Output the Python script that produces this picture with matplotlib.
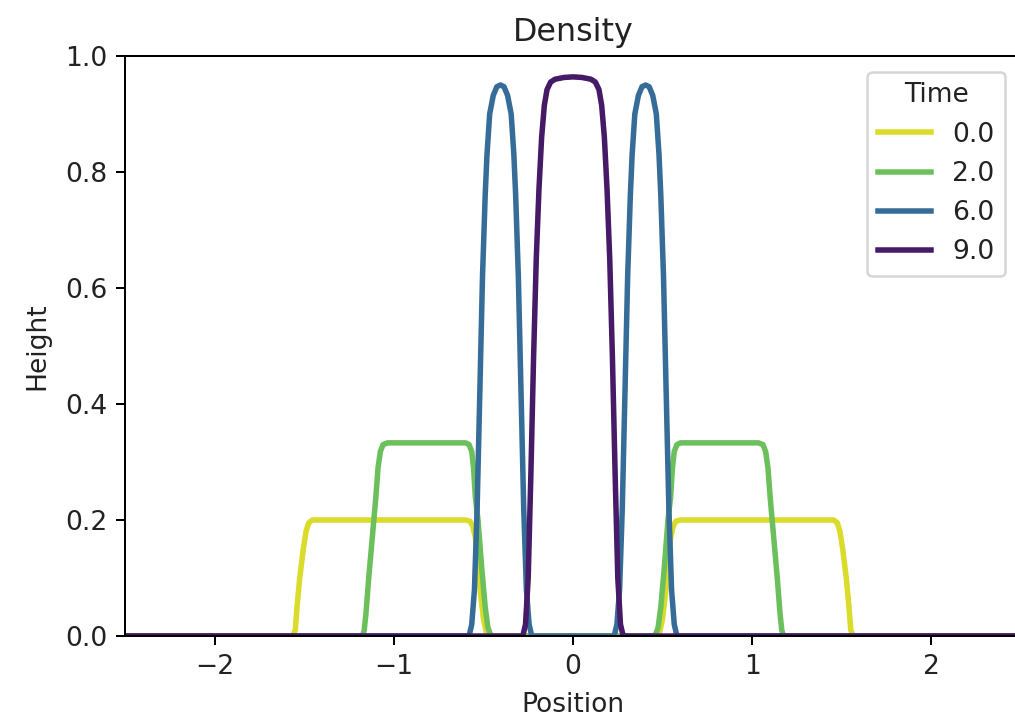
import matplotlib
matplotlib.use("Agg")
import matplotlib.pyplot as plt

# ---- data ----
times = ["0.0", "2.0", "6.0", "9.0"]
colors = ["#dbdb2b", "#6cc05c", "#366c98", "#461a66"]

x_t0 = [-2.5, -1.565, -1.55, -1.54, -1.525, -1.505, -1.49, -1.475, -1.455,
        -0.60, -0.575, -0.56, -0.545, -0.53, -0.515, -0.50, -0.485, -0.47,
        0.47, 0.485, 0.50, 0.515, 0.53, 0.545, 0.56, 0.575, 0.60,
        1.455, 1.475, 1.49, 1.505, 1.525, 1.54, 1.55, 1.565, 2.5]
y_t0 = [0.0, 0.0, 0.01, 0.05, 0.10, 0.15, 0.18, 0.195, 0.2,
        0.2, 0.198, 0.19, 0.17, 0.12, 0.07, 0.03, 0.008, 0.0,
        0.0, 0.008, 0.03, 0.07, 0.12, 0.17, 0.19, 0.198, 0.2,
        0.2, 0.195, 0.18, 0.15, 0.10, 0.05, 0.01, 0.0, 0.0]

x_t2 = [-2.5, -1.175, -1.165, -1.155, -1.14, -1.12, -1.10, -1.088, -1.075, -1.06, -1.035,
        -0.60, -0.58, -0.565, -0.555, -0.545, -0.53, -0.51, -0.49, -0.475, -0.46, -0.45,
        0.45, 0.46, 0.475, 0.49, 0.51, 0.53, 0.545, 0.555, 0.565, 0.58, 0.60,
        1.035, 1.06, 1.075, 1.088, 1.10, 1.12, 1.14, 1.155, 1.165, 1.175, 2.5]
y_t2 = [0.0, 0.0, 0.01, 0.04, 0.10, 0.17, 0.24, 0.29, 0.318, 0.33, 0.333,
        0.333, 0.33, 0.318, 0.29, 0.24, 0.20, 0.12, 0.05, 0.015, 0.002, 0.0,
        0.0, 0.002, 0.015, 0.05, 0.12, 0.20, 0.24, 0.29, 0.318, 0.33, 0.333,
        0.333, 0.33, 0.318, 0.29, 0.24, 0.17, 0.10, 0.04, 0.01, 0.0, 0.0]

x_t6 = [-2.5, -0.58, -0.565, -0.55, -0.535, -0.52, -0.505, -0.49, -0.48, -0.465, -0.445,
        -0.425, -0.405, -0.385, -0.365, -0.345, -0.33, -0.32, -0.305, -0.29, -0.275,
        -0.26, -0.245, -0.23,
        0.23, 0.245, 0.26, 0.275, 0.29, 0.305, 0.32, 0.33, 0.345, 0.365, 0.385,
        0.405, 0.425, 0.445, 0.465, 0.48, 0.49, 0.505, 0.52, 0.535, 0.55, 0.565, 0.58, 2.5]
y_t6 = [0.0, 0.0, 0.02, 0.08, 0.22, 0.42, 0.62, 0.76, 0.83, 0.90, 0.932,
        0.947, 0.95, 0.947, 0.932, 0.90, 0.83, 0.76, 0.62, 0.42, 0.22,
        0.08, 0.02, 0.0,
        0.0, 0.02, 0.08, 0.22, 0.42, 0.62, 0.76, 0.83, 0.90, 0.932, 0.947,
        0.95, 0.947, 0.932, 0.90, 0.83, 0.76, 0.62, 0.42, 0.22, 0.08, 0.02, 0.0, 0.0]

x_t9 = [-2.5, -0.28, -0.265, -0.25, -0.235, -0.22, -0.205, -0.19, -0.175, -0.16, -0.145,
        -0.125, -0.10, -0.05, 0.0, 0.05, 0.10, 0.125, 0.145, 0.16, 0.175, 0.19, 0.205,
        0.22, 0.235, 0.25, 0.265, 0.28, 2.5]
y_t9 = [0.0, 0.0, 0.02, 0.10, 0.28, 0.48, 0.65, 0.77, 0.86, 0.915, 0.942,
        0.955, 0.96, 0.963, 0.964, 0.963, 0.96, 0.955, 0.942, 0.915, 0.86, 0.77, 0.65,
        0.48, 0.28, 0.10, 0.02, 0.0, 0.0]

xs = [x_t0, x_t2, x_t6, x_t9]
ys = [y_t0, y_t2, y_t6, y_t9]

# ---- figure ----
plt.rcParams["font.size"] = 10.6
plt.rcParams["text.color"] = "#222222"
plt.rcParams["xtick.labelcolor"] = "#222222"
plt.rcParams["ytick.labelcolor"] = "#222222"
plt.rcParams["axes.labelcolor"] = "#222222"

fig = plt.figure(figsize=(1015 / 180, 718 / 180), dpi=180)
ax = fig.add_axes([125 / 1015, 82 / 718, 896 / 1015, 580 / 718])

for x, y, c, lab in zip(xs, ys, colors, times):
    ax.plot(x, y, color=c, lw=2.2, label=lab, solid_joinstyle="round")

ax.set_xlim(-2.5, 2.5)
ax.set_ylim(0, 1.0)
ax.set_xticks([-2, -1, 0, 1, 2])
ax.set_yticks([0.0, 0.2, 0.4, 0.6, 0.8, 1.0])
ax.set_title("Density")
ax.set_xlabel("Position", labelpad=5)
ax.set_ylabel("Height", labelpad=6)
ax.legend(title="Time", loc="upper right", labelspacing=0.5, borderaxespad=0.6)

fig.savefig("out.png", dpi=180)
